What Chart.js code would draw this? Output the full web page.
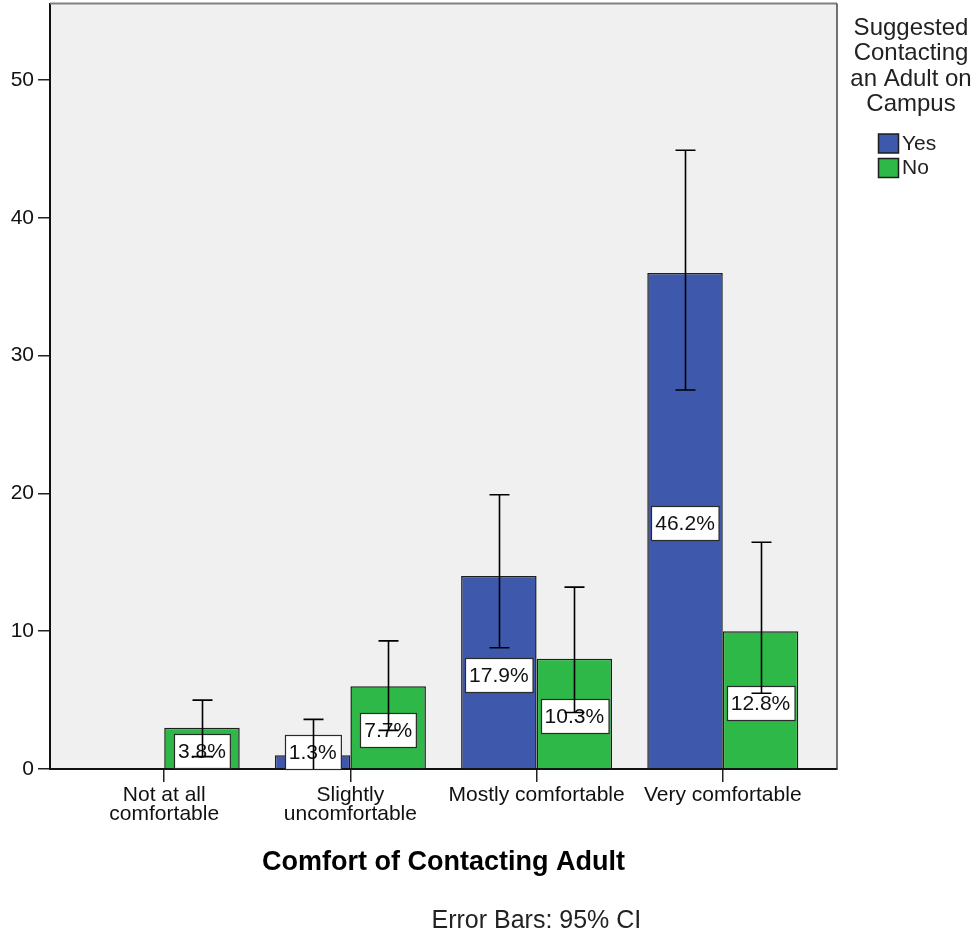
<!DOCTYPE html>
<html>
<head>
<meta charset="utf-8">
<title>Comfort of Contacting Adult</title>
<script src="https://cdn.jsdelivr.net/npm/chart.js@4/dist/chart.umd.min.js"></script>
<style>
  html, body { margin: 0; padding: 0; background: #ffffff; }
  canvas { display: block; }
</style>
</head>
<body>
<canvas id="chart" width="977" height="932"></canvas>
<script>
// Categories (multi-line labels as arrays)
const categories = [['Not at all', 'comfortable'], ['Slightly', 'uncomfortable'], 'Mostly comfortable', 'Very comfortable'];

// Counts per group
const yesCounts = [0, 1, 14, 36];
const noCounts = [3, 6, 8, 10];

// 95% confidence interval bounds
const yesCiLow = [null, 0, 8.8, 27.5];
const yesCiHigh = [null, 3.6, 19.9, 44.9];
const noCiLow = [0.9, 2.8, 4.1, 5.5];
const noCiHigh = [5.0, 9.3, 13.2, 16.45];

const yTicks = [0, 10, 20, 30, 40, 50];
const seriesNames = ['Yes', 'No'];
const legendTitle = ['Suggested', 'Contacting', 'an Adult on', 'Campus'];
const xTitle = 'Comfort of Contacting Adult';
const footnote = 'Error Bars: 95% CI';

const FONT = '"Liberation Sans", Arial, Helvetica, sans-serif';
Chart.defaults.font.family = FONT;
Chart.defaults.color = '#111111';

const total = yesCounts.concat(noCounts).reduce((a, b) => a + b, 0);
const toPoints = values => values.map((v, i) => ({ x: i, y: v }));

// Light grey plot background plus top/right frame lines
const plotFrame = {
  id: 'plotFrame',
  beforeDraw(chart) {
    const { ctx, chartArea: a } = chart;
    ctx.save();
    ctx.fillStyle = '#f0f0f0';
    ctx.fillRect(a.left, a.top, a.right - a.left, a.bottom - a.top);
    ctx.restore();
  },
  afterDraw(chart) {
    const { ctx, chartArea: a } = chart;
    ctx.save();
    ctx.lineWidth = 2;
    ctx.strokeStyle = '#808080';
    ctx.beginPath();
    ctx.moveTo(a.left, a.top);
    ctx.lineTo(a.right, a.top);
    ctx.stroke();
    ctx.strokeStyle = '#444444';
    ctx.lineWidth = 1.5;
    ctx.beginPath();
    ctx.moveTo(a.right, a.top);
    ctx.lineTo(a.right, a.bottom);
    ctx.stroke();
    ctx.restore();
  }
};

// Percentage boxes inside bars, then CI whiskers on top
const barAnnotations = {
  id: 'barAnnotations',
  afterDatasetsDraw(chart) {
    const { ctx } = chart;
    const ys = chart.scales.y;
    ctx.save();
    ctx.font = '21px ' + FONT;
    ctx.textAlign = 'center';
    ctx.textBaseline = 'middle';
    chart.data.datasets.forEach((ds, di) => {
      const meta = chart.getDatasetMeta(di);
      meta.data.forEach((bar, i) => {
        const v = ds.data[i].y;
        if (!v) return;
        const text = (v / total * 100).toFixed(1) + '%';
        const w = ctx.measureText(text).width + 8;
        const h = 34;
        let top = ys.getPixelForValue(v / 2) + 2.5 - h / 2;
        if (top + h > ys.bottom - 0.5) top = ys.bottom - 0.5 - h;
        const left = Math.round(bar.x - w / 2) + 0.5;
        top = Math.round(top) + 0.5;
        ctx.fillStyle = '#ffffff';
        ctx.fillRect(left, top, w, h);
        ctx.strokeStyle = '#2a2a2a';
        ctx.lineWidth = 1.2;
        ctx.strokeRect(left, top, w, h);
        ctx.fillStyle = '#111111';
        ctx.fillText(text, bar.x, top + h / 2 + 1);
      });
    });
    ctx.strokeStyle = '#000000';
    ctx.lineWidth = 1.6;
    chart.data.datasets.forEach((ds, di) => {
      const meta = chart.getDatasetMeta(di);
      meta.data.forEach((bar, i) => {
        const lo = ds.ciLow[i], hi = ds.ciHigh[i];
        if (lo === null || hi === null) return;
        const x = Math.round(bar.x) + 0.5;
        const yLo = ys.getPixelForValue(lo);
        const yHi = ys.getPixelForValue(hi);
        ctx.beginPath();
        ctx.moveTo(x, yLo);
        ctx.lineTo(x, yHi);
        ctx.moveTo(x - 10, yHi);
        ctx.lineTo(x + 10, yHi);
        if (lo > 0) {
          ctx.moveTo(x - 10, yLo);
          ctx.lineTo(x + 10, yLo);
        }
        ctx.stroke();
      });
    });
    ctx.restore();
  }
};

// Legend block at the right of the plot and the footnote below the axis title
const sideLegend = {
  id: 'sideLegend',
  afterDraw(chart) {
    const { ctx, chartArea: a } = chart;
    ctx.save();
    ctx.fillStyle = '#222222';
    ctx.textAlign = 'center';
    ctx.textBaseline = 'middle';
    ctx.font = '24px ' + FONT;
    const cx = a.right + 74;
    legendTitle.forEach((line, k) => ctx.fillText(line, cx, a.top + 25 + k * 25.3));

    ctx.font = '21px ' + FONT;
    ctx.textAlign = 'left';
    chart.data.datasets.forEach((ds, di) => {
      const y = a.top + 139.5 + di * 24.5;
      ctx.fillStyle = ds.backgroundColor;
      ctx.fillRect(a.right + 41.5, y - 9, 20, 19);
      ctx.strokeStyle = '#1e1e1e';
      ctx.lineWidth = 1.5;
      ctx.strokeRect(a.right + 41.5, y - 9, 20, 19);
      ctx.fillStyle = '#222222';
      ctx.fillText(ds.label, a.right + 65, y + 1);
    });

    ctx.font = '25px ' + FONT;
    ctx.textAlign = 'center';
    ctx.textBaseline = 'alphabetic';
    ctx.fillStyle = '#222222';
    ctx.fillText(footnote, a.left + (a.right - a.left) * 0.618, 928);
    ctx.restore();
  }
};

new Chart(document.getElementById('chart'), {
  type: 'bar',
  data: {
    datasets: [
      {
        label: seriesNames[0],
        data: toPoints(yesCounts),
        backgroundColor: '#3e58ac',
        borderColor: '#1e1e1e',
        borderWidth: c => (c.raw && c.raw.y === 0 ? 0 : 1.5),
        ciLow: yesCiLow,
        ciHigh: yesCiHigh
      },
      {
        label: seriesNames[1],
        data: toPoints(noCounts),
        backgroundColor: '#2eb848',
        borderColor: '#1e1e1e',
        borderWidth: c => (c.raw && c.raw.y === 0 ? 0 : 1.5),
        ciLow: noCiLow,
        ciHigh: noCiHigh
      }
    ]
  },
  options: {
    responsive: false,
    animation: false,
    categoryPercentage: 0.811,
    barPercentage: 1.0,
    layout: { padding: { top: 3.5, right: 140, bottom: 0, left: 0 } },
    plugins: {
      legend: { display: false },
      tooltip: { enabled: false },
      title: { display: false }
    },
    scales: {
      x: {
        type: 'linear',
        offset: false,
        min: -0.6135,
        max: 3.6135,
        afterBuildTicks: s => { s.ticks = categories.map((c, i) => ({ value: i })); },
        afterFit: s => { s.height = 163; s.paddingLeft = 0; s.paddingRight = 0; },
        grid: { offset: false, drawOnChartArea: false, drawTicks: true, tickLength: 13, color: '#222222', lineWidth: 1.5 },
        border: { display: true, color: '#111111', width: 2 },
        ticks: {
          autoSkip: false,
          maxRotation: 0,
          padding: 3,
          color: '#111111',
          font: { size: 21, lineHeight: 0.93 },
          callback: v => categories[v]
        },
        title: {
          display: true,
          text: xTitle,
          color: '#000000',
          font: { size: 27, weight: 'bold', lineHeight: 1.2 },
          padding: { top: 0, bottom: 53 }
        }
      },
      y: {
        min: 0,
        max: 55.55,
        afterBuildTicks: s => { s.ticks = yTicks.map(v => ({ value: v })); },
        afterFit: s => { s.width = 50; s.paddingTop = 0; s.paddingBottom = 0; },
        grid: { drawOnChartArea: false, drawTicks: true, tickLength: 12, color: '#222222', lineWidth: 1.5 },
        border: { display: true, color: '#111111', width: 2 },
        ticks: { padding: 4, color: '#111111', font: { size: 21 } }
      }
    }
  },
  plugins: [plotFrame, barAnnotations, sideLegend]
});
</script>
</body>
</html>
